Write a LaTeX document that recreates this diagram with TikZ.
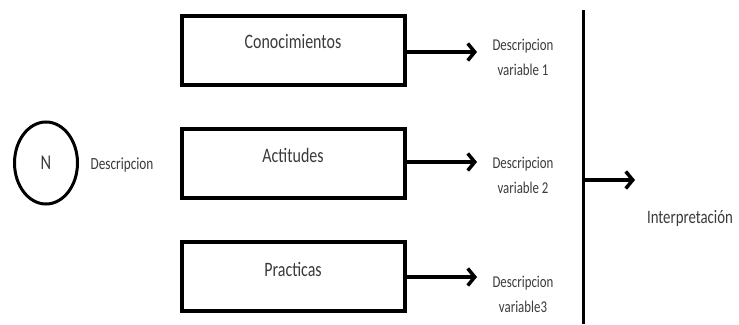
\documentclass[tikz,border=0pt]{standalone}
\usepackage{fontspec}
\usepackage{graphicx}
\setmainfont{Carlito}
\usetikzlibrary{arrows.meta,shapes.geometric}
\definecolor{txt}{HTML}{3A3A3A}
\newcommand\cnd[1]{\scalebox{0.78}[1]{#1}}
\begin{document}
\begin{tikzpicture}[x=1pt,y=-1pt,
  box/.style={draw=black,line width=4pt,minimum width=223pt,minimum height=69pt,anchor=north west,inner sep=0pt},
  boxtext/.style={text=txt,font=\fontsize{20.5}{22}\selectfont},
  lbl/.style={text=txt,font=\fontsize{16.5}{25}\selectfont,align=center,inner sep=0pt},
  arr/.style={line width=3.5pt,-{Straight Barb[length=7pt,width=17pt,line width=3.5pt]}}]
\useasboundingbox (0,0) rectangle (739,324);
% boxes
\node[box] (b1) at (180,14) {};
\node[box] (b2) at (180,127) {};
\node[box] (b3) at (180,240) {};
\node[boxtext] (t1) at (293,42) {\cnd{Conocimientos}};
\node[boxtext] (t2) at (293,155) {\cnd{Actitudes}};
\node[boxtext] (t3) at (293,269) {\cnd{Practicas}};
% description labels
\node[lbl] (d1) at (523,57) {\cnd{Descripcion}\\\cnd{variable 1}};
\node[lbl] (d2) at (523,175) {\cnd{Descripcion}\\\cnd{variable 2}};
\node[lbl] (d3) at (523,294) {\cnd{Descripcion}\\\cnd{variable3}};
\coordinate (e1) at (477,52);
\coordinate (e2) at (477,162);
\coordinate (e3) at (477,277);
\draw[arr] (b1.east |- e1) -- (e1);
\draw[arr] (b2.east |- e2) -- (e2);
\draw[arr] (b3.east |- e3) -- (e3);
% vertical line
\coordinate (vtop) at (583,10);
\coordinate (vbot) at (583,324);
\draw[line width=3pt] (vtop) -- (vbot);
\coordinate (ia) at (583,180);
\coordinate (ib) at (635,180);
\draw[arr] (ia) -- (ib);
\node[text=txt,font=\fontsize{19}{20}\selectfont] (interp) at (690,218) {\cnd{Interpretación}};
% circle
\node[draw=black,line width=3pt,ellipse,minimum width=63pt,minimum height=82pt,inner sep=0pt,text=txt,font=\fontsize{21}{22}\selectfont] (n) at (46,163) {\cnd{N}};
\node[text=txt,font=\fontsize{17}{18}\selectfont] (desc) at (122,165) {\cnd{Descripcion}};
\end{tikzpicture}
\end{document}
